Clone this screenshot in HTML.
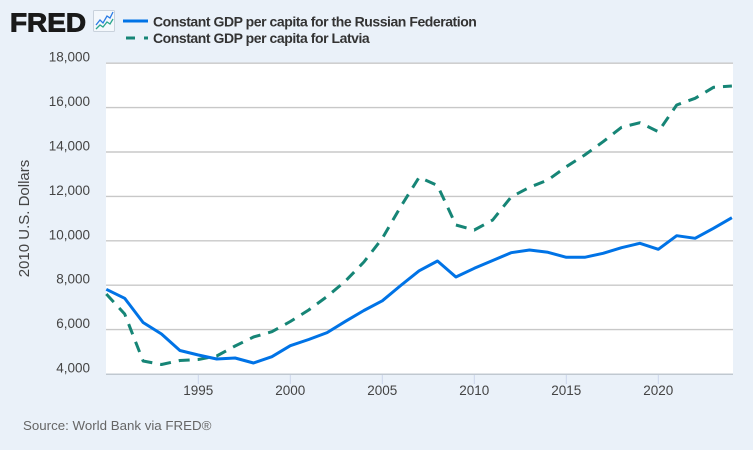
<!DOCTYPE html>
<html><head><meta charset="utf-8"><style>
html,body{margin:0;padding:0;background:#eaf1f9;}
svg{display:block;font-family:"Liberation Sans",Arial,sans-serif;}
</style></head><body>
<svg width="753" height="450" viewBox="0 0 753 450" xmlns="http://www.w3.org/2000/svg">
<rect x="0" y="0" width="753" height="450" fill="#eaf1f9"/>
<!-- logo -->
<text x="10" y="31.5" font-size="25.5" font-weight="bold" fill="#1a1a1a" stroke="#1a1a1a" stroke-width="0.9" textLength="76" lengthAdjust="spacingAndGlyphs">FRED</text>
<rect x="93.5" y="10.5" width="21" height="21" fill="#f4f8fc" stroke="#c9d2dc" stroke-width="1" rx="1"/>
<polyline points="96,25 100,20 103,23 107,16 110,18 113,12" fill="none" stroke="#2a7be4" stroke-width="1.3"/>
<polyline points="96,29 100,25 103,27 107,22 110,24 113,19" fill="none" stroke="#2aa58c" stroke-width="1.3"/>
<!-- legend -->
<line x1="123" y1="21" x2="148" y2="21" stroke="#0073e6" stroke-width="3"/>
<line x1="126" y1="38" x2="135" y2="38" stroke="#168576" stroke-width="3"/>
<line x1="144" y1="38" x2="148" y2="38" stroke="#168576" stroke-width="3"/>
<text x="153" y="26.5" font-size="14" font-weight="bold" fill="#333" letter-spacing="-0.45">Constant GDP per capita for the Russian Federation</text>
<text x="153" y="43" font-size="14" font-weight="bold" fill="#333" letter-spacing="-0.45">Constant GDP per capita for Latvia</text>
<!-- plot area -->
<rect x="106" y="63" width="627" height="311" fill="#ffffff"/>
<g stroke="#c8c8c8" stroke-width="1.4">
<line x1="106" y1="63.2" x2="733" y2="63.2"/>
<line x1="106" y1="107.6" x2="733" y2="107.6"/>
<line x1="106" y1="152" x2="733" y2="152"/>
<line x1="106" y1="196.4" x2="733" y2="196.4"/>
<line x1="106" y1="240.8" x2="733" y2="240.8"/>
<line x1="106" y1="285.2" x2="733" y2="285.2"/>
<line x1="106" y1="329.6" x2="733" y2="329.6"/>
</g>
<line x1="106" y1="374.3" x2="733" y2="374.3" stroke="#c0c8d0" stroke-width="1.5"/>
<g stroke="#ccd6eb" stroke-width="1">
<line x1="198.3" y1="375" x2="198.3" y2="384"/>
<line x1="290.3" y1="375" x2="290.3" y2="384"/>
<line x1="382.3" y1="375" x2="382.3" y2="384"/>
<line x1="474.3" y1="375" x2="474.3" y2="384"/>
<line x1="566.3" y1="375" x2="566.3" y2="384"/>
<line x1="658.3" y1="375" x2="658.3" y2="384"/>
</g>
<!-- y labels -->
<g font-size="13.5" fill="#444" text-anchor="end">
<text x="90" y="61.7">18,000</text>
<text x="90" y="106.1">16,000</text>
<text x="90" y="150.5">14,000</text>
<text x="90" y="194.9">12,000</text>
<text x="90" y="239.3">10,000</text>
<text x="90" y="283.7">8,000</text>
<text x="90" y="328.1">6,000</text>
<text x="90" y="372.6">4,000</text>
</g>
<text transform="translate(29,218.5) rotate(-90)" font-size="15" fill="#444" text-anchor="middle">2010 U.S. Dollars</text>
<!-- x labels -->
<g font-size="13.5" fill="#444" text-anchor="middle">
<text x="198.3" y="395">1995</text>
<text x="290.3" y="395">2000</text>
<text x="382.3" y="395">2005</text>
<text x="474.3" y="395">2010</text>
<text x="566.3" y="395">2015</text>
<text x="658.3" y="395">2020</text>
</g>
<!-- series -->
<polyline fill="none" stroke="#168576" stroke-width="3" stroke-dasharray="11,8" stroke-linejoin="round"
points="106.3,294 124.7,314 143.1,361 161.5,364.5 179.9,360.5 198.3,359.5 216.7,356 235.1,346 253.5,337 271.9,331.7 290.3,321.5 308.7,310 327.1,296.5 345.5,281 363.9,262 382.3,238.3 400.7,206.7 419.1,177.3 437.5,185.5 455.9,225 474.3,230 492.7,220 511.1,197 529.5,187.3 547.9,180 566.3,166.7 584.7,155 603.1,141.7 621.5,127.3 639.9,122.7 658.3,131.7 676.7,105 695.1,98.3 713.5,87.3 731.9,86"/>
<polyline fill="none" stroke="#0073e6" stroke-width="3" stroke-linejoin="round"
points="106.3,289.3 124.7,298.3 143.1,322.5 161.5,334 179.9,350.5 198.3,355 216.7,359 235.1,358 253.5,363 271.9,356.7 290.3,345.7 308.7,339.5 327.1,332.6 345.5,321.3 363.9,310.5 382.3,300.8 400.7,285.5 419.1,270.8 437.5,261 455.9,277 474.3,268.3 492.7,260.5 511.1,252.7 529.5,250 547.9,252.3 566.3,257.3 584.7,257.3 603.1,253.3 621.5,247.7 639.9,243.3 658.3,249.3 676.7,235.7 695.1,238.3 713.5,228.3 731.9,217.7"/>
<!-- source -->
<text x="23" y="430" font-size="13.3" fill="#666">Source: World Bank via FRED®</text>
</svg>
</body></html>
